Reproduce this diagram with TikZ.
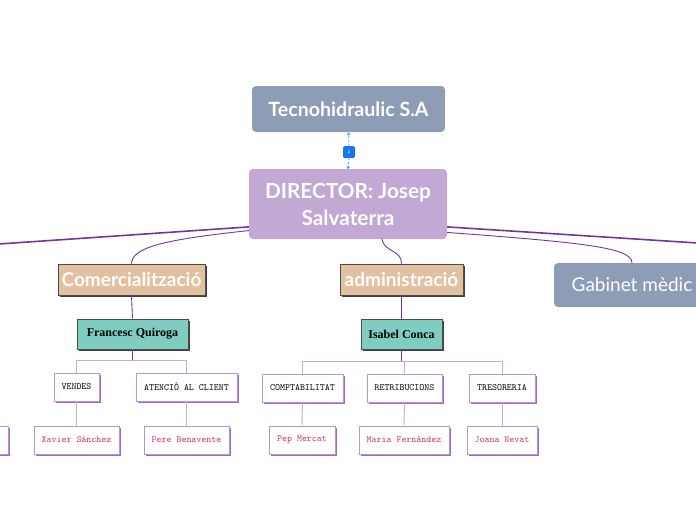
\documentclass[tikz,border=0pt]{standalone}
\usepackage{fontspec}
\setmainfont{Lato}
\newfontfamily\serifb{Liberation Serif}
\usetikzlibrary{arrows.meta,shadows}
\definecolor{grayblue}{HTML}{8D9DB5}
\definecolor{lilac}{HTML}{C2A8D4}
\definecolor{tan}{HTML}{E2C0A0}
\definecolor{teal}{HTML}{7ECDC0}
\definecolor{mainline}{HTML}{7434A0}
\definecolor{lightline}{HTML}{C9A8E0}
\definecolor{boxborder}{HTML}{B993D8}
\definecolor{boxshadow}{HTML}{9A6CC8}
\definecolor{namered}{HTML}{D4325A}
\definecolor{badgeblue}{HTML}{1976E8}
\definecolor{dashblue}{HTML}{5AA0E8}
\tikzset{
  topbox/.style={rounded corners=4pt, fill=grayblue, text=white, inner sep=0pt,
    font=\bfseries\fontsize{19.6}{22}\selectfont},
  dirbox/.style={rounded corners=4pt, fill=lilac, text=white, inner sep=0pt, align=center,
    font=\bfseries\fontsize{20.8}{27}\selectfont},
  deptbox/.style={fill=tan, draw=black!70, line width=0.6pt, text=white, inner sep=0pt,
    font=\bfseries\fontsize{19}{22}\selectfont,
    drop shadow={shadow xshift=2pt, shadow yshift=-2pt, fill=black!75, opacity=1}},
  headbox/.style={fill=teal, draw=black!70, line width=0.6pt, text=black, inner sep=0pt,
    font=\serifb\bfseries\fontsize{12}{14}\selectfont,
    drop shadow={shadow xshift=2pt, shadow yshift=-2pt, fill=black!75, opacity=1}},
  unitbox/.style={fill=white, draw=boxborder, line width=0.7pt, text=black, inner sep=0pt,
    minimum height=28pt, font=\ttfamily\fontsize{9.5}{11}\selectfont,
    drop shadow={shadow xshift=1.5pt, shadow yshift=-1.5pt, fill=boxshadow, opacity=1}},
  namebox/.style={unitbox, text=namered},
  mainconn/.style={draw=mainline, line width=1.6pt},
  subconn/.style={draw=mainline, line width=0.9pt},
  lightconn/.style={draw=lightline, line width=0.9pt},
}
\begin{document}
\begin{tikzpicture}[x=1pt,y=-1pt]
\useasboundingbox (0,0) rectangle (696,520);
\clip (0,0) rectangle (696,520);

% top levels
\node[topbox, minimum width=193pt, minimum height=46pt] (tecno) at (348.5,109) {Tecnohidraulic S.A};
\node[dirbox, minimum width=198pt, minimum height=70pt] (dir) at (348,204) {DIRECTOR: Josep\\Salvaterra};
\node[fill=badgeblue, rounded corners=1.5pt, minimum width=12pt, minimum height=12pt, inner sep=0pt,
  text=white, font=\fontsize{5}{5}\selectfont] (badge) at (349,152) {z};
\draw[dashblue, line width=0.8pt, dash pattern=on 2pt off 2pt, -{Triangle[length=3pt,width=3.5pt]}] (badge.north) -- (tecno.south);
\draw[dashblue, line width=0.8pt, dash pattern=on 2pt off 2pt, -{Circle[length=3pt]}] (badge.south) -- (dir.north);

% departments
\node[deptbox, minimum width=147pt, minimum height=31pt] (com) at (131.5,279.5) {Comercialització};
\node[deptbox, minimum width=123pt, minimum height=31pt] (adm) at (401.5,279.5) {administració};
\node[topbox, font=\fontsize{19}{22}\selectfont, minimum width=156pt, minimum height=44pt] (gab) at (632,285) {Gabinet mèdic};

% connectors from director
\coordinate (farleft) at (-60,248);
\coordinate (farright) at (760,247);
\draw[mainconn] (dir.193) -- (farleft);
\draw[mainconn] (dir.-13) -- (farright);
\draw[subconn] (dir.195) .. controls (160,240) and (132,248) .. (com.north);
\draw[subconn] (dir.-16) .. controls (590,243) and (631,248) .. (gab.north);
\draw[subconn] (dir.-46) .. controls (384,252) and (402,250) .. (adm.north);

% heads
\node[headbox, minimum width=111pt, minimum height=30pt] (fq) at (132.5,334) {Francesc Quiroga};
\node[headbox, minimum width=81pt, minimum height=30pt] (ic) at (401.5,334) {Isabel Conca};
\draw[subconn] (com.south) -- (fq.north);
\draw[subconn] (adm.south) -- (ic.north);

% units
\node[unitbox, minimum width=45pt] (vendes) at (76.5,387) {VENDES};
\node[unitbox, minimum width=101pt] (atencio) at (186.5,387) {ATENCIÓ AL CLIENT};
\node[unitbox, minimum width=81pt] (compt) at (302.5,388) {COMPTABILITAT};
\node[unitbox, minimum width=75pt] (retri) at (404.5,388) {RETRIBUCIONS};
\node[unitbox, minimum width=66pt] (treso) at (502,388) {TRESORERIA};

\draw[subconn] (fq.south) -- ++(0,11) coordinate (fqb);
\draw[lightconn] (fqb) -| (vendes.north);
\draw[lightconn] (fqb) -| (atencio.north);
\draw[subconn] (ic.south) -- ++(0,12) coordinate (icb);
\draw[lightconn] (icb) -| (compt.north);
\draw[lightconn] (icb) -| (retri.north);
\draw[lightconn] (icb) -| (treso.north);

% names
\node[namebox, minimum width=60pt, anchor=east] (cut) at (9,440) {};
\node[namebox, minimum width=85pt] (xavier) at (76.5,440) {Xavier Sánchez};
\node[namebox, minimum width=85pt] (pere) at (186.5,440) {Pere Benavente};
\node[namebox, minimum width=66pt] (pep) at (302,440) {Pep Mercat};
\node[namebox, minimum width=90pt] (maria) at (404,440) {Maria Fernández};
\node[namebox, minimum width=70pt] (joana) at (502,440) {Joana Nevat};

\draw[lightconn] (vendes.south) -- (xavier.north);
\draw[lightconn] (atencio.south) -- (pere.north);
\draw[lightconn] (compt.south) -- (pep.north);
\draw[lightconn] (retri.south) -- (maria.north);
\draw[lightconn] (treso.south) -- (joana.north);
\end{tikzpicture}
\end{document}
